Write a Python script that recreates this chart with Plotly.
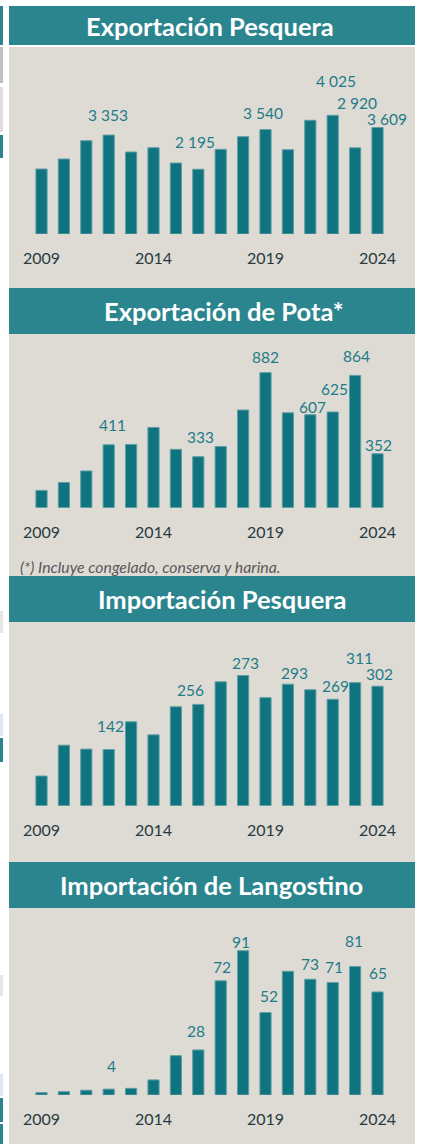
import plotly.graph_objects as go

years = list(range(2009, 2025))

titles = ["Exportación Pesquera", "Exportación de Pota*", "Importación Pesquera", "Importación de Langostino"]

export_pesquera = [2204, 2543, 3163, 3353, 2780, 2926, 2407, 2195, 2871, 3299, 3540, 2858, 3854, 4025, 2920, 3609]
export_pota = [113, 165, 240, 411, 413, 524, 381, 333, 400, 638, 882, 620, 607, 625, 864, 352]
import_pesquera = [75, 153, 143, 142, 212, 179, 250, 256, 313, 329, 273, 307, 293, 269, 311, 302]
import_langostino = [1.5, 2.1, 3.0, 3.7, 4.2, 9.5, 24.8, 28.4, 72, 91, 52, 78, 73, 71, 81, 65]

series = [export_pesquera, export_pota, import_pesquera, import_langostino]

# labelled points: (year shown, label text)
labels_1 = [(2012, "3 353"), (2016, "2 195"), (2019, "3 540"), (2022, "4 025"), (2023, "2 920"), (2024, "3 609")]
labels_2 = [(2012, "411"), (2016, "333"), (2019, "882"), (2021, "607"), (2022, "625"), (2023, "864"), (2024, "352")]
labels_3 = [(2012, "142"), (2016, "256"), (2018, "273"), (2020, "293"), (2022, "269"), (2023, "311"), (2024, "302")]
labels_4 = [(2012, "4"), (2016, "28"), (2017, "72"), (2018, "91"), (2019, "52"), (2021, "73"), (2022, "71"), (2023, "81"), (2024, "65")]
labels = [labels_1, labels_2, labels_3, labels_4]

tick_years = [2009, 2014, 2019, 2024]
footnote = "(*) Incluye congelado, conserva y harina."

# ---- styling / layout ----
W, H = 422, 1144
HEADER = "#2b858f"
PANEL = "#dedbd5"
BAR = "#0f7480"
BAR_EDGE = "#5f9ea4"
LABEL = "#1f7b87"
TICK = "#28393e"
FONT = "Lato"

# pixel layout of each panel: header top, header bottom, panel top, panel bottom, baseline, units per px
panels = [
    dict(h0=6, h1=45, p0=47, p1=288, base=234.0, upp=33.9, tx=210),
    dict(h0=288, h1=334, p0=334, p1=576, base=507.7, upp=6.53, tx=224),
    dict(h0=576, h1=622, p0=622, p1=862, base=805.7, upp=2.527, tx=222),
    dict(h0=862, h1=908, p0=908, p1=1144, base=1095.0, upp=0.6306, tx=211),
]
# label offsets (px): (dx, dy above bar top)
label_offsets = [
    [(-1, 20), (-3, 27.6), (-2.5, 17), (3, 34.7), (2, 44.4), (9, 8.4)],
    [(4, 19.3), (2, 19.3), (0, 15.6), (2, 7.4), (1.5, 22.7), (1, 19.3), (1, 9)],
    [(1.3, 23.3), (-8, 14), (2, 12.4), (6.4, 11), (2.3, 13), (4, 24.4), (1.5, 12.3)],
    [(2.3, 23.6), (-2.5, 19.3), (1.3, 13.4), (-2, 8.4), (3.3, 16.3), (0, 15.7), (1, 15), (-1.5, 25.4), (0, 19)],
]
# cropped neighbouring elements visible at the left edge: (top px, bottom px, colour)
edge_strips = [
    (6, 45, HEADER), (47, 83, "#bfbfbf"), (87, 132, "#e2dfda"), (135, 158, HEADER),
    (611, 633, "#e6e6e6"), (714, 736, "#dce9f5"), (738, 762, HEADER),
    (975, 996, "#e6e6e6"), (1074, 1096, "#dce9f5"), (1098, 1122, HEADER), (1124, 1144, HEADER),
]

def py(px):
    return 1 - px / H

c0, step = 41.5, 22.4
xrange_ = [years[0] - c0 / step, years[0] + (W - c0) / step]

fig = go.Figure()
shapes = []
annotations = []

for t, b, col in edge_strips:
    shapes.append(dict(type="rect", xref="paper", yref="paper", x0=0, x1=3 / W,
                       y0=py(b), y1=py(t), fillcolor=col, line_width=0, layer="below"))

for i, (p, vals) in enumerate(zip(panels, series)):
    n = i + 1
    xa = "x" if n == 1 else f"x{n}"
    ya = "y" if n == 1 else f"y{n}"
    fig.add_trace(go.Bar(
        x=years, y=vals, xaxis=xa, yaxis=ya, width=0.5,
        marker=dict(color=BAR, line=dict(color=BAR_EDGE, width=1)),
        hoverinfo="x+y", showlegend=False,
    ))
    ymax = (p["base"] - p["p0"]) * p["upp"]
    fig.update_layout(**{
        ("xaxis" if n == 1 else f"xaxis{n}"): dict(
            domain=[0, 1], anchor=ya, range=xrange_, tickvals=tick_years,
            ticktext=[str(t) for t in tick_years], ticks="outside", ticklen=10,
            tickcolor="rgba(0,0,0,0)", showgrid=False, zeroline=False, showline=False,
            tickfont=dict(family=FONT, size=16, color=TICK), fixedrange=True,
        ),
        ("yaxis" if n == 1 else f"yaxis{n}"): dict(
            domain=[py(p["base"]), py(p["p0"])], anchor=xa, range=[0, ymax],
            showgrid=False, zeroline=False, showline=False, showticklabels=False,
            fixedrange=True,
        ),
    })
    # panel background and header
    shapes.append(dict(type="rect", xref="paper", yref="paper", x0=9 / W, x1=415 / W,
                       y0=py(p["p1"]), y1=py(p["p0"]), fillcolor=PANEL, line_width=0, layer="below"))
    shapes.append(dict(type="rect", xref="paper", yref="paper", x0=9 / W, x1=415 / W,
                       y0=py(p["h1"]), y1=py(p["h0"]), fillcolor=HEADER, line_width=0, layer="below"))
    annotations.append(dict(text=titles[i], xref="paper", yref="paper", x=p["tx"] / W,
                            y=py((p["h0"] + p["h1"]) / 2), xanchor="center", yanchor="middle",
                            showarrow=False,
                            font=dict(family=FONT, size=25.5, color="white", weight=700)))
    for (yr, txt), (dx, dy) in zip(labels[i], label_offsets[i]):
        annotations.append(dict(text=txt, xref=xa, yref=ya, x=yr, y=vals[years.index(yr)],
                                xanchor="center", yanchor="middle", xshift=dx, yshift=dy,
                                showarrow=False,
                                font=dict(family=FONT, size=15.5, color=LABEL)))

annotations.append(dict(text=footnote, xref="paper", yref="paper", x=17.5 / W, y=py(566.7),
                        xanchor="left", yanchor="middle", showarrow=False,
                        font=dict(family=FONT, size=15.8, color="#595959", style="italic")))

fig.update_layout(
    width=W, height=H, margin=dict(l=0, r=0, t=0, b=0),
    paper_bgcolor="white", plot_bgcolor="rgba(0,0,0,0)",
    shapes=shapes, annotations=annotations, bargap=0.5,
)

fig.write_html("out.html", config={"displayModeBar": False},
               post_script="document.body.style.margin='0';document.body.style.overflow='hidden';")
